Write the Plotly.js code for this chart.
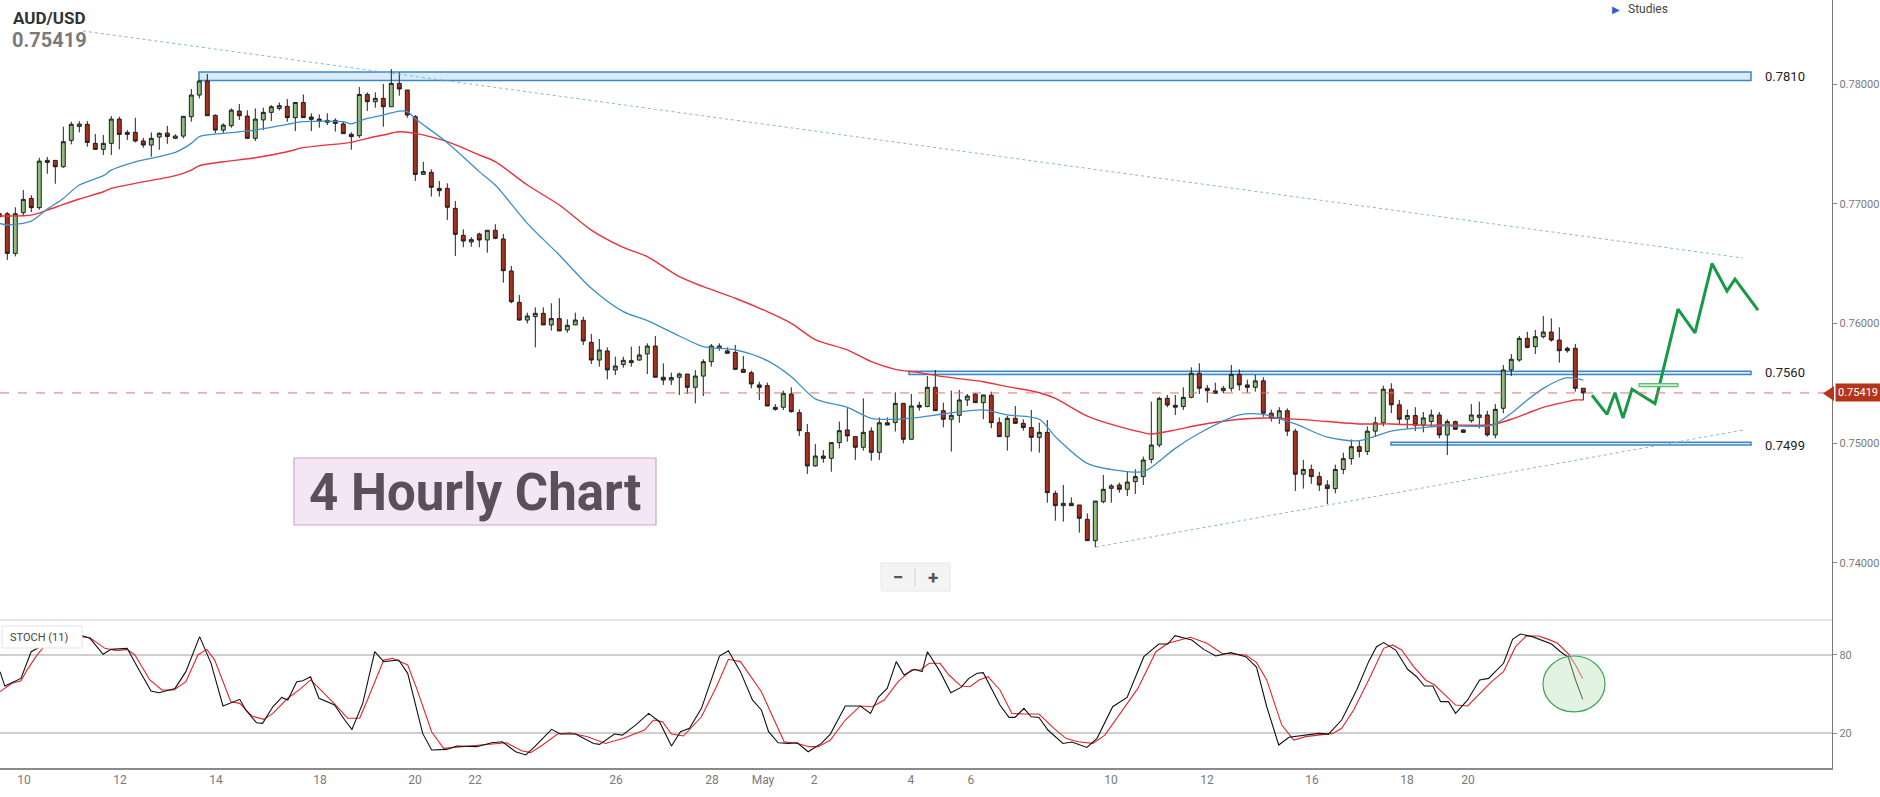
<!DOCTYPE html>
<html>
<head>
<meta charset="utf-8">
<script src="https://cdn.plot.ly/plotly-3.0.1.min.js"></script>
<style>
html,body{margin:0;padding:0;background:#fff;}
#chart{width:1880px;height:797px;}
</style>
</head>
<body>
<div id="chart"></div>
<script>
// ---------- DATA (4-hour AUD/USD candles) ----------
const open = [0.76916,0.76916,0.76585,0.76925,0.77044,0.76967,0.77345,0.77362,0.77309,0.77529,0.77646,0.77663,0.77504,0.77454,0.77504,0.77707,0.77579,0.77596,0.77524,0.7749,0.77557,0.7759,0.77546,0.77565,0.77727,0.77908,0.78025,0.77738,0.77615,0.77652,0.77774,0.77732,0.77546,0.777,0.77763,0.77796,0.77813,0.77719,0.77846,0.77724,0.77707,0.77696,0.77696,0.77666,0.7758,0.77568,0.77913,0.77852,0.7788,0.7781,0.78005,0.7795,0.77727,0.77245,0.77262,0.77128,0.77128,0.76961,0.76736,0.7668,0.76747,0.76697,0.76778,0.76705,0.76438,0.76176,0.76028,0.76057,0.76084,0.75987,0.7604,0.75945,0.75987,0.76026,0.75842,0.75694,0.7577,0.75611,0.75656,0.75672,0.75694,0.75745,0.75811,0.7555,0.75527,0.7555,0.75577,0.75466,0.7556,0.7568,0.75792,0.7577,0.75758,0.75616,0.75588,0.75486,0.7548,0.75299,0.75299,0.7541,0.75254,0.75087,0.74809,0.74892,0.74873,0.75004,0.7511,0.75054,0.74965,0.75101,0.74923,0.7517,0.75171,0.75332,0.75032,0.75316,0.75305,0.75466,0.75271,0.75199,0.75232,0.7536,0.7541,0.75338,0.754,0.75171,0.75054,0.75207,0.75165,0.7513,0.75048,0.7509,0.7458,0.74477,0.74497,0.74483,0.74363,0.74185,0.74511,0.74622,0.7465,0.74614,0.74678,0.7472,0.74864,0.74984,0.75374,0.75316,0.75305,0.75382,0.75583,0.75458,0.75436,0.75438,0.75458,0.75575,0.75486,0.75466,0.7552,0.7525,0.7521,0.7527,0.751,0.7474,0.7478,0.7472,0.7465,0.7462,0.7478,0.7487,0.7497,0.7493,0.751,0.7517,0.7545,0.7532,0.752,0.7523,0.7515,0.7518,0.75235,0.75068,0.75179,0.7511,0.75187,0.75215,0.75235,0.75068,0.75291,0.75611,0.75694,0.75875,0.75806,0.75889,0.75928,0.75861,0.75792,0.75792,0.75458];
const high = [0.7693,0.7693,0.7697,0.77114,0.7707,0.77384,0.7739,0.77362,0.77643,0.77685,0.7769,0.7769,0.77582,0.77574,0.77732,0.77727,0.77615,0.77718,0.7755,0.77596,0.77596,0.7765,0.7758,0.7773,0.77958,0.78036,0.78083,0.77746,0.77671,0.77796,0.77833,0.7778,0.77796,0.77802,0.77824,0.77846,0.77874,0.77846,0.77913,0.77755,0.77746,0.77755,0.77713,0.7769,0.77596,0.77975,0.7793,0.7793,0.78,0.78125,0.78097,0.7795,0.7774,0.7735,0.77287,0.7719,0.7717,0.77023,0.76786,0.7672,0.76758,0.76778,0.76828,0.76747,0.7648,0.76237,0.7609,0.76134,0.76134,0.76168,0.7621,0.76034,0.7609,0.76056,0.75912,0.7587,0.758,0.75722,0.75722,0.75806,0.75811,0.75833,0.75895,0.75666,0.75589,0.75589,0.75577,0.7561,0.757,0.75828,0.75833,0.758,0.7582,0.75728,0.75605,0.75513,0.75505,0.75326,0.75438,0.75466,0.75282,0.7516,0.74992,0.74942,0.75004,0.7518,0.75291,0.75054,0.75374,0.75132,0.75215,0.75215,0.75424,0.75332,0.7541,0.75346,0.7556,0.7561,0.75338,0.75438,0.75444,0.7541,0.75416,0.75402,0.7543,0.75215,0.75227,0.7531,0.75199,0.75277,0.75171,0.75193,0.74603,0.7465,0.74547,0.74483,0.74413,0.74516,0.74734,0.74658,0.7467,0.74761,0.74781,0.74887,0.75346,0.75388,0.75402,0.75402,0.75466,0.75633,0.75667,0.75486,0.75505,0.75477,0.75653,0.75616,0.7553,0.7557,0.7555,0.7528,0.753,0.7529,0.7512,0.7486,0.7482,0.7476,0.7469,0.7482,0.7492,0.7503,0.7502,0.7514,0.7522,0.7548,0.755,0.7536,0.7528,0.753,0.7526,0.7528,0.7526,0.75198,0.75187,0.75115,0.75326,0.75346,0.7527,0.75326,0.75652,0.75744,0.75895,0.7593,0.75945,0.76062,0.76042,0.75967,0.75806,0.75828,0.75458];
const low = [0.7687,0.7653,0.7656,0.76905,0.7693,0.7695,0.7725,0.77167,0.773,0.77496,0.77596,0.77476,0.77454,0.77407,0.77407,0.77454,0.77532,0.77512,0.77468,0.77393,0.7745,0.775,0.7754,0.77546,0.77685,0.7788,0.77735,0.77588,0.77588,0.77635,0.77699,0.77546,0.77524,0.77615,0.77691,0.7778,0.77685,0.77607,0.77719,0.77607,0.77635,0.77657,0.77602,0.77585,0.77451,0.7755,0.77774,0.77802,0.77643,0.7781,0.77902,0.77718,0.7719,0.7724,0.7706,0.7706,0.76864,0.76563,0.76636,0.76641,0.76636,0.76591,0.76703,0.7634,0.76168,0.76023,0.76,0.758,0.75987,0.7594,0.75937,0.75923,0.75987,0.7582,0.75661,0.75639,0.75533,0.75569,0.7563,0.75639,0.75689,0.75577,0.7555,0.75486,0.75486,0.75402,0.7541,0.75332,0.75393,0.75639,0.75772,0.7575,0.7561,0.75591,0.75458,0.7536,0.7531,0.75271,0.75276,0.75254,0.7506,0.74742,0.74803,0.74837,0.74761,0.74956,0.75012,0.74859,0.74937,0.74853,0.74859,0.75151,0.75096,0.74998,0.75032,0.75271,0.753,0.75271,0.75132,0.74929,0.7517,0.7531,0.75338,0.752,0.75124,0.75054,0.74937,0.7516,0.75104,0.74929,0.7492,0.74502,0.74352,0.74344,0.74477,0.74252,0.74185,0.7413,0.74497,0.74502,0.74586,0.74558,0.74575,0.7465,0.74831,0.74965,0.75299,0.75235,0.75277,0.75374,0.7541,0.75338,0.75416,0.75416,0.7543,0.7544,0.7542,0.7543,0.7522,0.7518,0.7516,0.7506,0.746,0.7462,0.7466,0.746,0.74491,0.7458,0.7474,0.7482,0.7488,0.749,0.7505,0.7514,0.7525,0.7515,0.7512,0.751,0.7509,0.7514,0.7504,0.74901,0.7511,0.75087,0.7517,0.75123,0.75054,0.7504,0.75249,0.75561,0.7568,0.75792,0.75744,0.75875,0.75847,0.75672,0.75756,0.7543,0.7536];
const close = [0.7689,0.76585,0.76916,0.77036,0.76967,0.77356,0.77362,0.77309,0.77518,0.77663,0.77665,0.77512,0.77454,0.77504,0.77707,0.77579,0.77596,0.77524,0.7749,0.77546,0.77588,0.77562,0.77565,0.7773,0.77908,0.78025,0.77735,0.77615,0.77657,0.77782,0.77735,0.77546,0.77707,0.77763,0.7781,0.77819,0.77719,0.77846,0.77719,0.77705,0.77691,0.7768,0.77671,0.77585,0.7756,0.77913,0.77852,0.7788,0.7781,0.78005,0.77958,0.77741,0.77245,0.77268,0.77137,0.77109,0.7697,0.76744,0.76688,0.767,0.76697,0.76778,0.76711,0.7644,0.76181,0.76028,0.76062,0.76084,0.75987,0.7604,0.75937,0.75984,0.76028,0.75853,0.75694,0.75778,0.75611,0.75644,0.75692,0.75689,0.75736,0.75811,0.7555,0.75527,0.75547,0.75577,0.75466,0.7556,0.7568,0.75811,0.75811,0.7575,0.75616,0.75591,0.75494,0.75466,0.7531,0.75282,0.75416,0.75263,0.75104,0.74809,0.74892,0.74873,0.75004,0.75104,0.7506,0.74965,0.7509,0.74923,0.7517,0.75151,0.75332,0.75032,0.7531,0.753,0.75466,0.75271,0.75199,0.75232,0.7536,0.75393,0.75338,0.75402,0.75171,0.75054,0.75207,0.75165,0.7513,0.75048,0.7509,0.74586,0.74477,0.74497,0.74477,0.74372,0.74185,0.74516,0.74614,0.74642,0.74614,0.74675,0.7472,0.74859,0.74984,0.75374,0.75318,0.753,0.75382,0.75583,0.75458,0.75438,0.75416,0.75458,0.75575,0.75486,0.75466,0.7552,0.7525,0.7521,0.7527,0.751,0.7474,0.7478,0.7472,0.7465,0.7462,0.7478,0.7487,0.7497,0.7493,0.751,0.7517,0.7545,0.7532,0.752,0.7523,0.7515,0.7521,0.75235,0.75068,0.75179,0.75115,0.7509,0.75235,0.75235,0.75068,0.75282,0.75611,0.757,0.75875,0.758,0.75889,0.75928,0.75861,0.75772,0.75772,0.75458,0.75419];

// moving averages (sampled along the lines)
const maFastIdx = [0,1,4,6,8,10,13,14,17,22,24,25,28,32,36,38,43,44,46,48,50,51,52,56,60,62,66,70,74,78,81,85,88,92,96,99,102,106,109,112,115,118,123,126,130,132,136,140,143,144,147,150,155,158,162,166,170,174,178,180,186,187,189,191,193,195,196,197,198];
const maFast = [0.76836,0.76822,0.76855,0.76955,0.77044,0.77156,0.77234,0.77281,0.7735,0.77429,0.77504,0.7756,0.77588,0.77615,0.77663,0.77685,0.77685,0.77668,0.77713,0.77741,0.77774,0.77769,0.7771,0.7751,0.77268,0.77156,0.76836,0.76571,0.76293,0.76098,0.76023,0.75895,0.75806,0.75778,0.75689,0.75555,0.7537,0.75299,0.75207,0.75199,0.75215,0.75243,0.75277,0.75235,0.75199,0.75054,0.74831,0.7477,0.74761,0.74798,0.74956,0.75082,0.75235,0.7524,0.7516,0.7505,0.7502,0.751,0.7513,0.75143,0.75143,0.7516,0.75249,0.7536,0.75457,0.75527,0.75547,0.75541,0.75527];
const maSlowIdx = [0,1,4,6,8,10,13,14,17,22,24,25,28,32,36,38,43,44,46,48,50,52,56,60,62,66,70,74,78,81,85,88,92,96,99,102,106,109,112,115,118,123,126,130,132,136,140,143,144,147,150,155,158,162,166,170,174,178,180,186,187,189,191,193,195,196,197,198];
const maSlow = [0.76897,0.76897,0.76905,0.76947,0.76994,0.77039,0.771,0.77128,0.7717,0.77234,0.77281,0.77317,0.7735,0.77384,0.77434,0.77468,0.77504,0.77512,0.77546,0.77574,0.77601,0.77588,0.77518,0.77407,0.77351,0.77156,0.76989,0.7678,0.76635,0.76558,0.7639,0.76307,0.7621,0.76098,0.76,0.75865,0.75778,0.7568,0.75616,0.75589,0.75555,0.75513,0.75472,0.75421,0.75374,0.75226,0.75137,0.75087,0.75076,0.7511,0.75151,0.75199,0.7521,0.752,0.7518,0.7516,0.7516,0.7515,0.75151,0.75151,0.7516,0.75199,0.75249,0.75299,0.75332,0.75346,0.7536,0.7536];

// stochastic (11): %K black, %D red
const stochKIdx = [0.09,0.69,2.71,3.98,5.71,7.21,7.96,10.06,11.33,12.98,13.95,15.98,17.47,18.97,19.95,21.97,23.32,25.04,26.47,27.96,30.06,30.81,32.16,32.91,34.19,35.31,36.06,37.18,37.93,38.91,39.96,41.91,43.18,44.08,45.43,46.93,48.05,49.92,51.05,52.92,54.04,55.92,57.19,59.67,61.54,62.89,64.54,65.81,66.93,69.03,70.16,72.03,74.28,75.03,76.9,77.88,79.53,81.17,82.52,84.02,85.15,86.27,87.77,88.89,90.02,91.14,92.64,94.14,95.26,96.16,97.36,98.63,99.76,101.11,102.75,103.88,105.75,107.63,108.9,109.87,110.99,112.12,113.1,114.37,115.35,116.02,117.59,118.94,120.21,121.19,122.24,122.99,125.08,126.21,126.96,128.08,128.98,129.95,131.08,132.95,134.08,135.95,137.22,139.17,140.97,143.07,144.94,146.07,146.97,149.06,150.56,152.06,153.93,155.81,157.16,158.43,159.93,161.2,162.55,163.9,164.95,166.15,167.8,169.67,171.17,172.15,173.04,174.54,176.04,177.17,178.14,179.19,180.17,181.14,182.04,183.54,185.04,186.16,188.03,189.16,190.13,191.63,192.9,194.03,195.15,196.13,197.03,197.93];
const stochK = [67.2,56.1,62.0,82.5,88.2,94.1,92.8,95.4,92.8,80.5,84.3,85.1,68.4,52.3,51.0,54.3,67.2,94.1,73.6,40.8,45.9,37.7,27.9,27.4,40.2,47.4,45.4,59.5,60.2,63.3,46.7,41.5,30.0,22.8,42.8,82.5,74.9,76.1,65.9,19.7,6.9,7.4,10.0,9.5,12.5,13.3,5.6,3.1,9.5,22.8,19.2,19.2,12.0,11.3,19.2,18.4,26.1,35.1,28.7,10.0,21.0,23.6,39.0,59.5,79.2,83.3,67.2,45.4,37.7,21.0,12.5,12.0,12.5,5.6,12.0,19.2,40.8,40.8,35.1,47.4,54.3,74.9,64.6,69.0,67.2,82.5,67.2,51.0,55.1,62.0,65.9,66.4,41.5,32.0,32.0,39.0,32.5,32.0,22.3,12.0,13.1,8.9,15.9,40.2,47.4,78.7,88.4,88.4,94.9,91.5,84.3,79.2,81.8,78.7,70.5,40.2,10.8,16.7,17.7,18.4,19.7,19.2,30.0,53.1,74.9,86.4,89.5,83.8,69.0,63.3,56.1,56.1,44.1,44.1,35.1,45.4,60.8,62.0,73.6,92.0,96.1,94.1,91.0,88.4,82.5,78.2,60.8,45.9];
const stochDIdx = [0.09,1.59,2.71,3.46,4.58,6.08,7.58,10.2,11.33,13.2,14.7,15.98,16.95,18.82,20.32,21.82,23.32,24.82,25.94,26.92,28.94,30.06,31.56,33.06,34.19,36.06,37.56,38.91,40.18,42.05,43.55,45.05,46.18,48.05,49.17,51.05,52.17,54.04,55.54,57.04,59.67,61.54,63.41,65.29,66.41,67.91,69.78,71.28,73.53,75.78,78.02,80.65,81.77,82.9,84.02,85.52,87.77,89.64,91.14,92.64,93.76,95.26,96.76,98.11,99.76,101.26,102.38,103.88,105.75,107.63,109.13,110.62,112.35,114.0,115.12,116.24,117.59,118.71,120.21,121.34,122.46,123.59,125.08,126.58,128.08,129.95,131.83,133.33,134.83,136.7,138.2,140.07,142.32,144.57,146.07,148.91,150.94,152.81,154.31,155.81,157.16,158.43,160.31,161.81,163.3,165.55,166.68,167.8,169.3,171.17,173.04,174.17,175.29,176.79,178.29,179.41,180.54,182.04,183.54,185.04,186.54,188.03,189.53,190.88,192.38,193.65,194.78,196.13,197.03,197.93];
const stochD = [51.8,58.2,60.2,68.4,78.7,90.2,93.6,94.1,93.3,85.1,83.3,84.3,80.0,60.8,53.1,53.1,59.5,80.0,84.3,76.1,44.1,42.8,33.1,30.5,35.1,46.7,53.6,60.8,53.1,41.5,31.3,31.3,47.9,76.1,77.4,72.3,54.3,21.0,8.2,9.0,10.0,11.5,12.5,6.4,4.9,10.8,19.2,20.2,17.2,12.0,15.9,22.3,30.0,28.7,19.2,17.7,32.5,55.6,76.7,74.9,64.6,51.8,31.3,13.3,12.0,9.5,9.5,14.6,30.0,40.8,40.2,45.4,59.5,68.4,68.4,73.6,73.6,64.6,56.1,55.6,60.8,63.3,53.1,35.1,34.6,34.6,23.6,15.9,13.3,12.0,18.4,35.1,54.3,82.5,89.0,93.6,89.0,81.3,80.8,80.0,74.1,60.8,26.1,14.6,17.2,19.2,19.7,23.6,37.7,60.8,85.1,87.7,83.8,71.0,60.8,56.9,50.5,41.5,40.8,50.5,59.5,67.2,86.4,94.6,94.6,92.0,89.0,80.8,72.3,62.0];

// projected path (green arrow drawing)
const forecastIdx = [199.09,200.96,201.96,202.96,204.09,206.96,209.84,211.96,214.09,215.96,216.96,219.84];
const forecastPrice = [0.7540,0.7524,0.7542,0.7521,0.7545,0.7533,0.7612,0.7592,0.7650,0.7627,0.7637,0.7611];

// levels
const levelValues = [0.7810, 0.7560, 0.7499];
const levelLabels = ["0.7810", "0.7560", "0.7499"];
const lastPrice = 0.75419;
const lastPriceLabel = "0.75419";

// axis ticks
const xTickIdx = [3.09,15.09,27.09,40.09,51.96,59.46,77.1,89.1,95.46,101.84,113.96,121.46,138.96,150.96,164.09,175.96,183.59];
const xTickText = ["10","12","14","18","20","22","26","28","May","2","4","6","10","12","16","18","20"];
const priceTicks = [0.74, 0.75, 0.76, 0.77, 0.78];
const priceTickText = ["0.74000","0.75000","0.76000","0.77000","0.78000"];
const stochTicks = [20, 80];
const stochTickText = ["20","80"];

// ---------- LAYOUT HELPERS ----------
const W = 1880, H = 797;
const px = v => v / W;
const py = v => 1 - v / H;
const candleX = open.map((_, i) => i);
const FONT = "Roboto, Arial, sans-serif";

const traces = [
  {
    type: 'candlestick', x: candleX, open: open, high: high, low: low, close: close,
    xaxis: 'x', yaxis: 'y',
    increasing: {line: {color: '#1e1e1e', width: 1}, fillcolor: '#8fbc7e'},
    decreasing: {line: {color: '#1e1e1e', width: 1}, fillcolor: '#a5301c'},
    whiskerwidth: 0, hoverinfo: 'skip', showlegend: false
  },
  {type: 'scatter', mode: 'lines', x: maSlowIdx, y: maSlow, xaxis: 'x', yaxis: 'y',
   line: {color: '#e8323c', width: 1.4, shape: 'spline', smoothing: 0.8}, hoverinfo: 'skip', showlegend: false},
  {type: 'scatter', mode: 'lines', x: maFastIdx, y: maFast, xaxis: 'x', yaxis: 'y',
   line: {color: '#3d8fc4', width: 1.3, shape: 'spline', smoothing: 0.8}, hoverinfo: 'skip', showlegend: false},
  {type: 'scatter', mode: 'lines', x: forecastIdx, y: forecastPrice, xaxis: 'x', yaxis: 'y',
   line: {color: '#179a45', width: 3}, hoverinfo: 'skip', showlegend: false},
  {type: 'scatter', mode: 'lines', x: stochDIdx, y: stochD, xaxis: 'x', yaxis: 'y2',
   line: {color: '#e3242b', width: 1.1}, hoverinfo: 'skip', showlegend: false},
  {type: 'scatter', mode: 'lines', x: stochKIdx, y: stochK, xaxis: 'x', yaxis: 'y2',
   line: {color: '#111111', width: 1.1}, hoverinfo: 'skip', showlegend: false}
];

const xRight = 1832;
const idxAtPx = p => (p + 0.7) / 8;

const shapes = [
  // stoch panel top separator
  {type: 'line', xref: 'paper', yref: 'paper', x0: 0, x1: px(xRight), y0: py(620), y1: py(620), line: {color: '#cfcfcf', width: 1.2}},
  // 0.7810 zone
  {type: 'rect', xref: 'x', yref: 'y', x0: idxAtPx(199), x1: idxAtPx(1751), y0: 0.78030, y1: levelValues[0], fillcolor: '#d9eaf8', line: {color: '#3f86c4', width: 1.5}, layer: 'below'},
  // 0.7560 zone
  {type: 'rect', xref: 'x', yref: 'y', x0: idxAtPx(909), x1: idxAtPx(1751), y0: 0.75573, y1: levelValues[1], fillcolor: '#d9eaf8', line: {color: '#3f86c4', width: 1.5}, layer: 'below'},
  // 0.7499 zone
  {type: 'rect', xref: 'x', yref: 'y', x0: idxAtPx(1391), x1: idxAtPx(1751), y0: 0.74985, y1: 0.75008, fillcolor: '#d9eaf8', line: {color: '#3f86c4', width: 1.5}, layer: 'below'},
  // trend lines
  {type: 'line', xref: 'x', yref: 'y', x0: idxAtPx(83), y0: 0.78443, x1: idxAtPx(1743), y1: 0.76546, line: {color: '#7aaed6', width: 0.9, dash: 'dot'}},
  {type: 'line', xref: 'x', yref: 'y', x0: idxAtPx(1096), y0: 0.74132, x1: idxAtPx(1743), y1: 0.75109, line: {color: '#7aaed6', width: 0.9, dash: 'dot'}},
  // last price line
  {type: 'line', xref: 'paper', yref: 'y', x0: 0, x1: px(xRight), y0: lastPrice, y1: lastPrice, line: {color: '#e07070', width: 1, dash: 'dash'}},
  // small green marker
  {type: 'rect', xref: 'x', yref: 'y', x0: idxAtPx(1639), x1: idxAtPx(1678), y0: 0.75472, y1: 0.75497, fillcolor: '#cdeccf', line: {color: '#5cbf74', width: 1.2}},
  // stoch ellipse
  {type: 'circle', xref: 'x', yref: 'y2', x0: idxAtPx(1543), x1: idxAtPx(1605), y0: 36.2, y1: 79.2, fillcolor: 'rgba(190,228,190,0.45)', line: {color: '#3aa35c', width: 1.2}},
  // "4 Hourly Chart" box
  {type: 'rect', xref: 'paper', yref: 'paper', x0: px(294), x1: px(656), y0: py(525), y1: py(458), fillcolor: '#f4e6f4', line: {color: '#c9a6cf', width: 1.2}},
  // zoom buttons
  {type: 'rect', xref: 'paper', yref: 'paper', x0: px(881), x1: px(950), y0: py(591), y1: py(563), fillcolor: '#f4f4f4', line: {color: '#e6e6e6', width: 1}},
  {type: 'line', xref: 'paper', yref: 'paper', x0: px(915), x1: px(915), y0: py(586), y1: py(568), line: {color: '#d0d0d0', width: 1}},
  // price tag arrow
  {type: 'path', xref: 'paper', yref: 'paper', path: `M ${px(1823)} ${py(393.5)} L ${px(1834)} ${py(386)} L ${px(1834)} ${py(401)} Z`, fillcolor: '#b5351c', line: {width: 0}},
  // STOCH label box
  {type: 'rect', xref: 'paper', yref: 'paper', x0: px(2), x1: px(82), y0: py(648), y1: py(626), fillcolor: '#ffffff', line: {color: '#e3e3e3', width: 1}}
];

const annotations = [
  {xref: 'paper', yref: 'paper', x: px(11), y: py(18), xanchor: 'left', yanchor: 'middle', showarrow: false,
   text: '<b>AUD/USD</b>', font: {family: FONT, size: 17, color: '#333333'}},
  {xref: 'paper', yref: 'paper', x: px(10), y: py(40), xanchor: 'left', yanchor: 'middle', showarrow: false,
   text: '<b>' + lastPriceLabel + '</b>', font: {family: FONT, size: 20, color: '#7a7a7a'}},
  {xref: 'paper', yref: 'paper', x: px(1610), y: py(9), xanchor: 'left', yanchor: 'middle', showarrow: false,
   text: '▶', font: {family: FONT, size: 10, color: '#2c5fd6'}},
  {xref: 'paper', yref: 'paper', x: px(1626), y: py(9), xanchor: 'left', yanchor: 'middle', showarrow: false,
   text: 'Studies', font: {family: FONT, size: 12, color: '#444444'}},
  {xref: 'paper', yref: 'paper', x: px(475), y: py(492), xanchor: 'center', yanchor: 'middle', showarrow: false,
   text: '<b>4 Hourly Chart</b>', font: {family: FONT, size: 51, color: '#5a505a'}},
  {xref: 'paper', yref: 'paper', x: px(898), y: py(577), xanchor: 'center', yanchor: 'middle', showarrow: false,
   text: '<b>−</b>', font: {family: FONT, size: 19, color: '#555555'}},
  {xref: 'paper', yref: 'paper', x: px(933), y: py(577), xanchor: 'center', yanchor: 'middle', showarrow: false,
   text: '<b>+</b>', font: {family: FONT, size: 19, color: '#555555'}},
  {xref: 'paper', yref: 'paper', x: px(8), y: py(637), xanchor: 'left', yanchor: 'middle', showarrow: false,
   text: 'STOCH (11)', font: {family: FONT, size: 11, color: '#444444'}},
  {xref: 'paper', yref: 'y', x: px(1835), y: lastPrice, xanchor: 'left', yanchor: 'middle', showarrow: false,
   text: lastPriceLabel, bgcolor: '#b5351c', borderpad: 2, font: {family: FONT, size: 11, color: '#ffffff'}}
];
levelValues.forEach((v, k) => {
  annotations.push({xref: 'paper', yref: 'y', x: px(1763), y: v - (k === 0 ? 0.00035 : 0.0001), xanchor: 'left', yanchor: 'middle', showarrow: false,
    text: levelLabels[k], font: {family: FONT, size: 13, color: '#222222'}});
});

const layout = {
  width: W, height: H,
  margin: {l: 0, r: 0, t: 0, b: 0},
  paper_bgcolor: '#ffffff', plot_bgcolor: '#ffffff',
  showlegend: false, dragmode: false, hovermode: false,
  boxgap: 0.3,
  font: {family: FONT, color: '#777777'},
  xaxis: {
    domain: [0, px(xRight)], range: [0.0875, idxAtPx(xRight)], anchor: 'y2',
    showgrid: false, zeroline: false, showline: true, linecolor: '#8a8a8a', linewidth: 1.5,
    ticks: '', tickvals: xTickIdx, ticktext: xTickText,
    tickfont: {family: FONT, size: 12, color: '#7a7a7a'},
    rangeslider: {visible: false}, fixedrange: true
  },
  yaxis: {
    domain: [py(620), 1], range: [0.735221, 0.787018], side: 'right', anchor: 'x',
    showgrid: false, zeroline: false, showline: true, linecolor: '#777777', linewidth: 1.2,
    ticks: 'outside', ticklen: 4, tickcolor: '#888888',
    tickvals: priceTicks, ticktext: priceTickText,
    tickfont: {family: FONT, size: 11, color: '#7a7a7a'}, fixedrange: true
  },
  yaxis2: {
    domain: [py(768), py(620)], range: [-6.9, 106.9], side: 'right', anchor: 'x',
    showgrid: true, gridcolor: '#cfcfcf', gridwidth: 1.2, zeroline: false,
    showline: true, linecolor: '#777777', linewidth: 1.2,
    ticks: 'outside', ticklen: 4, tickcolor: '#888888',
    tickvals: stochTicks, ticktext: stochTickText,
    tickfont: {family: FONT, size: 11, color: '#7a7a7a'}, fixedrange: true
  },
  shapes: shapes,
  annotations: annotations
};

Plotly.newPlot('chart', traces, layout, {displayModeBar: false, staticPlot: true});
</script>
</body>
</html>
